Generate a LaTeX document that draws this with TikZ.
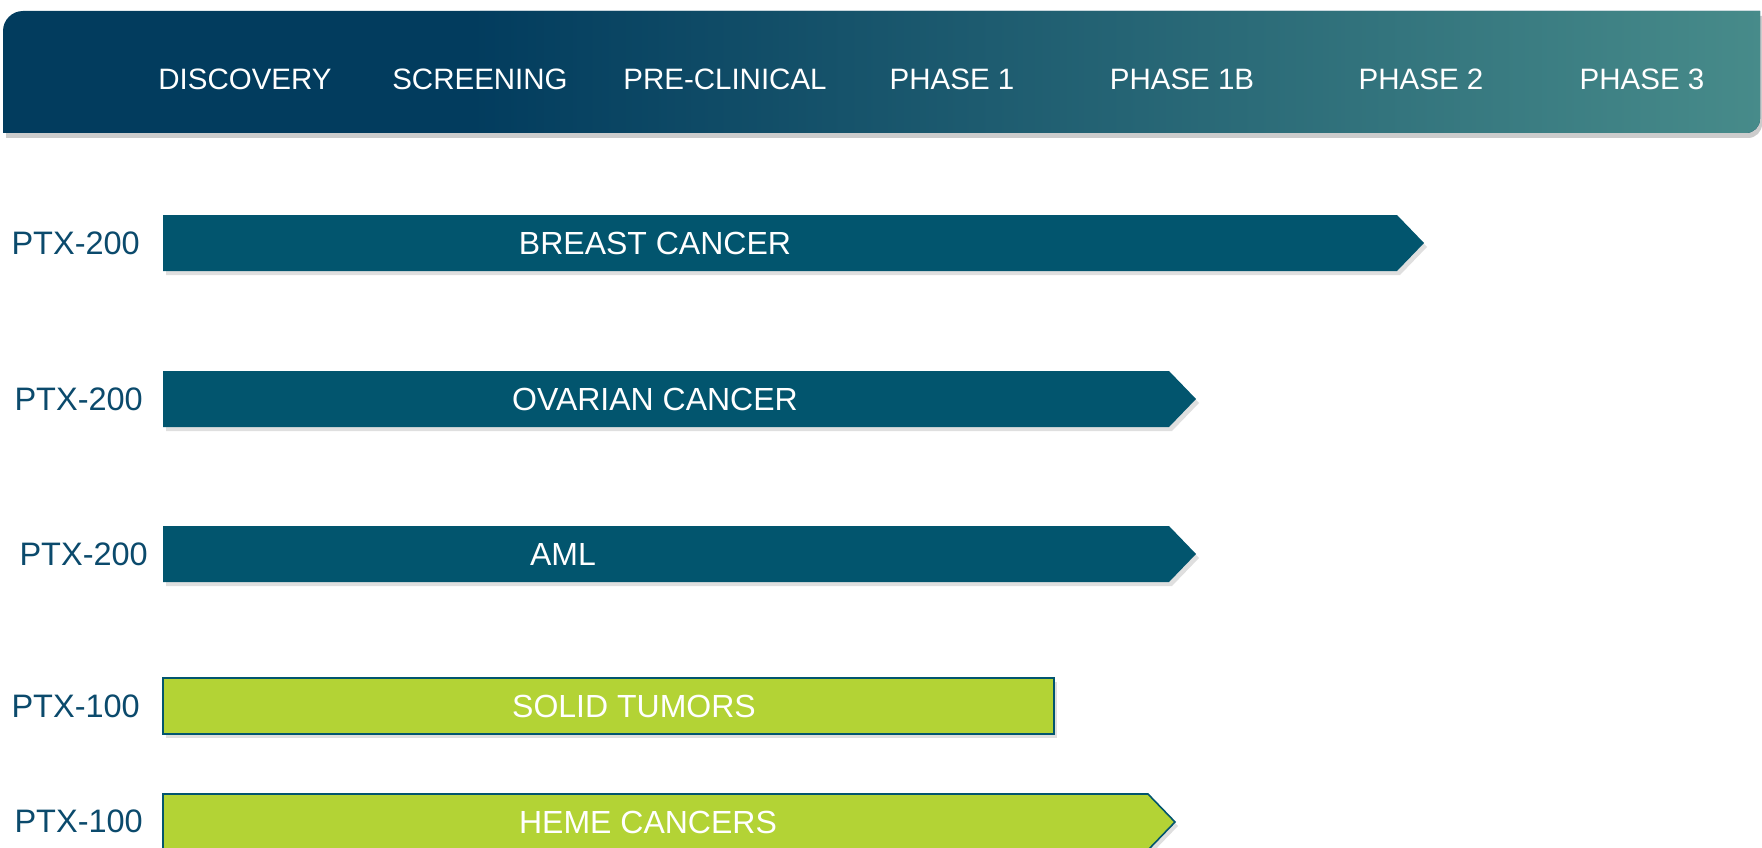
\documentclass[tikz,border=0pt]{standalone}
\usepackage{fontspec}
\setmainfont{Liberation Sans}
\usetikzlibrary{shadows}

\definecolor{hdrdark}{HTML}{023C5E}
\definecolor{hdrlight}{HTML}{478B8A}
\definecolor{bardark}{HTML}{02556E}
\definecolor{barlime}{HTML}{B3D335}
\definecolor{lblblue}{HTML}{0B4A6C}

\begin{document}
\begin{tikzpicture}[
    x=1pt, y=-1pt,
    every node/.style={font=\fontsize{32}{38}\selectfont, inner sep=0pt},
    phase/.style={text=white, font=\fontsize{29.5}{35}\selectfont},
    drug/.style={text=lblblue, anchor=east, font=\fontsize{32.5}{38}\selectfont},
    bartext/.style={text=white},
    darkbar/.style={fill=bardark, drop shadow={opacity=0.25, shadow xshift=3pt, shadow yshift=-4pt}},
    limebar/.style={fill=barlime, draw=bardark, line width=1.6pt, drop shadow={opacity=0.25, shadow xshift=3pt, shadow yshift=-4pt}}
]
\useasboundingbox (0,0) rectangle (1762,848);

% Header band
\fill[black, opacity=0.2] (6,138) [rounded corners=20] -- (6,16) [sharp corners] -- (1762,16) [rounded corners=14] -- (1762,138) [sharp corners] -- cycle;
\begin{scope}
  \clip (3,133) [rounded corners=20] -- (3,11) [sharp corners] -- (1760,11) [rounded corners=14] -- (1760,133) [sharp corners] -- cycle;
  \fill[hdrdark] (0,0) rectangle (1762,140);
  \shade[left color=hdrdark, right color=hdrlight] (470,0) rectangle (1762,140);
\end{scope}

% Phase labels
\foreach \x/\t [count=\i] in {245/DISCOVERY, 480/SCREENING, 725/PRE-CLINICAL, 952/PHASE 1,
    1182/PHASE 1B, 1421/PHASE 2, 1642/PHASE 3}
  \node[phase] (P\i) at (\x,79) {\t};

% PTX-200 programs
\foreach \y/\e/\tx/\lx/\t [count=\i] in {243/1397/655/140/BREAST CANCER,
    399/1169/655/143/OVARIAN CANCER, 554/1169/563/148/AML} {
  \fill[darkbar] (163,\y-28) -- (\e,\y-28) -- (\e+27,\y) -- (\e,\y+28) -- (163,\y+28) -- cycle;
  \node[bartext] (B\i) at (\tx,\y) {\t};
  \node[drug] (D\i) at (\lx,\y) {PTX-200};
}

% PTX-100 programs
\draw[limebar] (163,678) rectangle (1054,734);
\node[bartext] (B4) at (634,706) {SOLID TUMORS};
\node[drug] (D4) at (140,706) {PTX-100};

\draw[limebar] (163,794) -- (1148,794) -- (1175,822) -- (1148,850) -- (163,850) -- cycle;
\node[bartext] (B5) at (648,822) {HEME CANCERS};
\node[drug] (D5) at (143,821) {PTX-100};

\end{tikzpicture}
\end{document}
